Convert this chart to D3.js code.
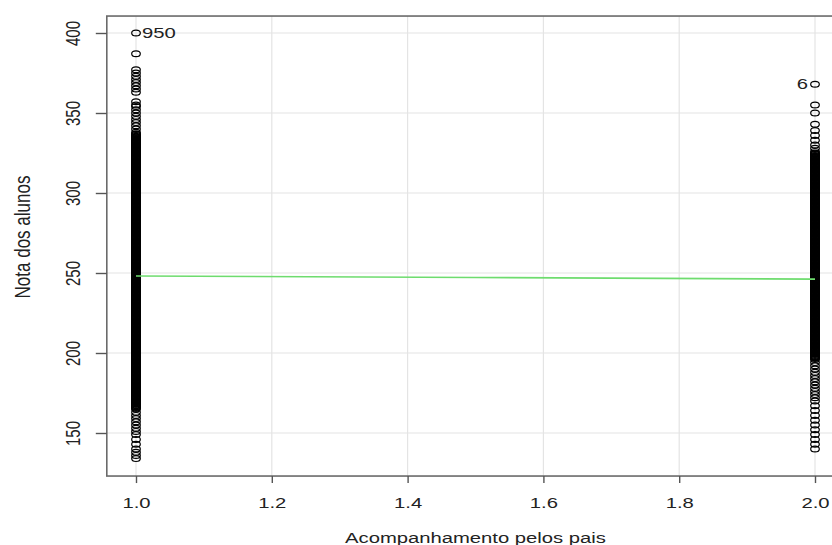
<!DOCTYPE html>
<html>
<head>
<meta charset="utf-8">
<script src="https://cdn.jsdelivr.net/npm/d3@7"></script>
<style>
  body { margin: 0; background: #fff; }
  svg text { font-family: "Liberation Sans", Arial, sans-serif; }
</style>
</head>
<body>
<div id="chart"></div>
<script>
// notas dos alunos, acompanhamento = 1
const notas1 = [
  400, 387, 377, 375, 373, 371, 369, 367, 365, 363, 357, 355, 354, 352, 350, 348, 346, 344, 342, 340, 338,
  337, 336, 335, 334, 333, 332, 331, 330, 329, 328, 327, 326, 325, 324, 323, 322, 321, 320,
  319, 318, 317, 316, 315, 314, 313, 312, 311, 310, 309, 308, 307, 306, 305, 304, 303, 302, 301, 300,
  299, 298, 297, 296, 295, 294, 293, 292, 291, 290, 289, 288, 287, 286, 285, 284, 283, 282, 281, 280,
  279, 278, 277, 276, 275, 274, 273, 272, 271, 270, 269, 268, 267, 266, 265, 264, 263, 262, 261, 260,
  259, 258, 257, 256, 255, 254, 253, 252, 251, 250, 249, 248, 247, 246, 245, 244, 243, 242, 241, 240,
  239, 238, 237, 236, 235, 234, 233, 232, 231, 230, 229, 228, 227, 226, 225, 224, 223, 222, 221, 220,
  219, 218, 217, 216, 215, 214, 213, 212, 211, 210, 209, 208, 207, 206, 205, 204, 203, 202, 201, 200,
  199, 198, 197, 196, 195, 194, 193, 192, 191, 190, 189, 188, 187, 186, 185, 184, 183, 182, 181, 180,
  179, 178, 177, 176, 175, 174, 173, 172, 171, 170, 169, 168, 167, 166, 165,
  163, 161, 159, 157, 155, 153, 151, 149, 146, 143, 140, 138, 136, 134,
  336.5, 335.5, 334.5, 333.5, 332.5, 331.5, 330.5, 329.5, 328.5, 327.5, 326.5, 325.5, 324.5, 323.5, 322.5, 321.5, 320.5,
  319.5, 318.5, 317.5, 316.5, 315.5, 314.5, 313.5, 312.5, 311.5, 310.5, 309.5, 308.5, 307.5, 306.5, 305.5, 304.5, 303.5, 302.5, 301.5, 300.5,
  299.5, 298.5, 297.5, 296.5, 295.5, 294.5, 293.5, 292.5, 291.5, 290.5, 289.5, 288.5, 287.5, 286.5, 285.5, 284.5, 283.5, 282.5, 281.5, 280.5,
  279.5, 278.5, 277.5, 276.5, 275.5, 274.5, 273.5, 272.5, 271.5, 270.5, 269.5, 268.5, 267.5, 266.5, 265.5, 264.5, 263.5, 262.5, 261.5, 260.5,
  259.5, 258.5, 257.5, 256.5, 255.5, 254.5, 253.5, 252.5, 251.5, 250.5, 249.5, 248.5, 247.5, 246.5, 245.5, 244.5, 243.5, 242.5, 241.5, 240.5,
  239.5, 238.5, 237.5, 236.5, 235.5, 234.5, 233.5, 232.5, 231.5, 230.5, 229.5, 228.5, 227.5, 226.5, 225.5, 224.5, 223.5, 222.5, 221.5, 220.5,
  219.5, 218.5, 217.5, 216.5, 215.5, 214.5, 213.5, 212.5, 211.5, 210.5, 209.5, 208.5, 207.5, 206.5, 205.5, 204.5, 203.5, 202.5, 201.5, 200.5,
  199.5, 198.5, 197.5, 196.5, 195.5, 194.5, 193.5, 192.5, 191.5, 190.5, 189.5, 188.5, 187.5, 186.5, 185.5, 184.5, 183.5, 182.5, 181.5, 180.5,
  179.5, 178.5, 177.5, 176.5, 175.5, 174.5, 173.5, 172.5, 171.5, 170.5, 169.5, 168.5, 167.5, 166.5, 165.5
];
// notas dos alunos, acompanhamento = 2
const notas2 = [
  368, 355, 350, 343, 339, 336, 333, 330, 328, 326,
  325, 324, 323, 322, 321, 320,
  319, 318, 317, 316, 315, 314, 313, 312, 311, 310, 309, 308, 307, 306, 305, 304, 303, 302, 301, 300,
  299, 298, 297, 296, 295, 294, 293, 292, 291, 290, 289, 288, 287, 286, 285, 284, 283, 282, 281, 280,
  279, 278, 277, 276, 275, 274, 273, 272, 271, 270, 269, 268, 267, 266, 265, 264, 263, 262, 261, 260,
  259, 258, 257, 256, 255, 254, 253, 252, 251, 250, 249, 248, 247, 246, 245, 244, 243, 242, 241, 240,
  239, 238, 237, 236, 235, 234, 233, 232, 231, 230, 229, 228, 227, 226, 225, 224, 223, 222, 221, 220,
  219, 218, 217, 216, 215, 214, 213, 212, 211, 210, 209, 208, 207, 206, 205, 204, 203, 202, 201, 200,
  199, 198, 197, 196, 194, 192, 190, 188, 186, 184, 182, 180, 178, 176, 174, 172,
  170, 167, 164, 161, 158, 155, 152, 149, 146, 143, 140,
  324.5, 323.5, 322.5, 321.5, 320.5,
  319.5, 318.5, 317.5, 316.5, 315.5, 314.5, 313.5, 312.5, 311.5, 310.5, 309.5, 308.5, 307.5, 306.5, 305.5, 304.5, 303.5, 302.5, 301.5, 300.5,
  299.5, 298.5, 297.5, 296.5, 295.5, 294.5, 293.5, 292.5, 291.5, 290.5, 289.5, 288.5, 287.5, 286.5, 285.5, 284.5, 283.5, 282.5, 281.5, 280.5,
  279.5, 278.5, 277.5, 276.5, 275.5, 274.5, 273.5, 272.5, 271.5, 270.5, 269.5, 268.5, 267.5, 266.5, 265.5, 264.5, 263.5, 262.5, 261.5, 260.5,
  259.5, 258.5, 257.5, 256.5, 255.5, 254.5, 253.5, 252.5, 251.5, 250.5, 249.5, 248.5, 247.5, 246.5, 245.5, 244.5, 243.5, 242.5, 241.5, 240.5,
  239.5, 238.5, 237.5, 236.5, 235.5, 234.5, 233.5, 232.5, 231.5, 230.5, 229.5, 228.5, 227.5, 226.5, 225.5, 224.5, 223.5, 222.5, 221.5, 220.5,
  219.5, 218.5, 217.5, 216.5, 215.5, 214.5, 213.5, 212.5, 211.5, 210.5, 209.5, 208.5, 207.5, 206.5, 205.5, 204.5, 203.5, 202.5, 201.5, 200.5,
  199.5, 198.5, 197.5, 196.5
];
const xTicks = [1.0, 1.2, 1.4, 1.6, 1.8, 2.0];
const yTicks = [150, 200, 250, 300, 350, 400];
// curva suavizada (verde)
const suaveX = [1, 1.5, 2];
const suaveY = [248.1, 247.2, 246.2];
// pontos identificados
const rotuloGrupo = [1, 2];
const rotuloNota = [400, 368];
const rotuloTexto = ["950", "6"];

const width = 832, height = 545;
const sx = 1.35; // the picture is stretched sideways

const x = d3.scaleLinear().domain([1, 2]).range([136, 815]);
const y = d3.scaleLinear().domain([150, 400]).range([433, 33]);

const boxL = x(0.957), boxR = x(2.043);
const boxT = y(410.6), boxB = y(123.1);

const svg = d3.select("#chart").append("svg")
  .attr("width", width).attr("height", height);

// grid
svg.append("g").selectAll("line").data(xTicks).join("line")
  .attr("x1", d => x(d)).attr("x2", d => x(d))
  .attr("y1", boxT).attr("y2", boxB)
  .attr("stroke", "#e4e4e4").attr("stroke-width", 1.2);
svg.append("g").selectAll("line").data(yTicks).join("line")
  .attr("x1", boxL).attr("x2", boxR)
  .attr("y1", d => y(d)).attr("y2", d => y(d))
  .attr("stroke", "#e4e4e4").attr("stroke-width", 1.2);

// points
const pontos = notas1.map(v => ({g: 1, v})).concat(notas2.map(v => ({g: 2, v})));
svg.append("g").selectAll("ellipse").data(pontos).join("ellipse")
  .attr("cx", d => x(d.g)).attr("cy", d => y(d.v))
  .attr("rx", 4.3).attr("ry", 2.9)
  .attr("fill", "none").attr("stroke", "#000").attr("stroke-width", 1.2);

// smoother
const linha = d3.line().x(d => x(d[0])).y(d => y(d[1]));
svg.append("path").datum(d3.zip(suaveX, suaveY))
  .attr("d", linha).attr("fill", "none")
  .attr("stroke", "#6edc6e").attr("stroke-width", 1.6);

// labels of points
rotuloTexto.forEach((t, i) => {
  const px = x(rotuloGrupo[i]), py = y(rotuloNota[i]);
  const dx = i === 0 ? 6 : -7;
  svg.append("text")
    .attr("transform", `translate(${px + dx},${py + 5}) scale(${sx},1)`)
    .attr("text-anchor", i === 0 ? "start" : "end")
    .attr("font-size", 15).attr("fill", "#222")
    .text(t);
});

// box
svg.append("rect")
  .attr("x", boxL).attr("y", boxT)
  .attr("width", boxR - boxL).attr("height", boxB - boxT)
  .attr("fill", "none").attr("stroke", "#6a6a6a").attr("stroke-width", 1.6);

// axes
const gx = svg.append("g").attr("transform", `translate(0,${boxB})`)
  .call(d3.axisBottom(x).tickValues(xTicks).tickFormat(d3.format(".1f")).tickSize(7));
gx.select(".domain").remove();
gx.selectAll(".tick line").attr("stroke", "#555").attr("stroke-width", 1.4);
gx.selectAll(".tick text")
  .attr("y", null).attr("dy", null)
  .attr("transform", `translate(0,32) scale(${sx},1)`)
  .attr("font-size", 15).attr("fill", "#222");

const gy = svg.append("g").attr("transform", `translate(${boxL},0)`)
  .call(d3.axisLeft(y).tickValues(yTicks).tickSize(11));
gy.select(".domain").remove();
gy.selectAll(".tick line").attr("stroke", "#555").attr("stroke-width", 1.4);
gy.selectAll(".tick text")
  .attr("x", null).attr("dy", null)
  .attr("text-anchor", "middle")
  .attr("transform", `translate(-27,0) scale(${sx},1) rotate(-90)`)
  .attr("font-size", 15).attr("fill", "#222");

// titles
svg.append("text")
  .attr("transform", `translate(${(boxL + boxR) / 2},543) scale(${sx},1)`)
  .attr("text-anchor", "middle").attr("font-size", 15).attr("fill", "#222")
  .text("Acompanhamento pelos pais");
svg.append("text")
  .attr("transform", `translate(30,237) scale(${sx},1) rotate(-90)`)
  .attr("text-anchor", "middle").attr("font-size", 17).attr("fill", "#222")
  .text("Nota dos alunos");
</script>
</body>
</html>
